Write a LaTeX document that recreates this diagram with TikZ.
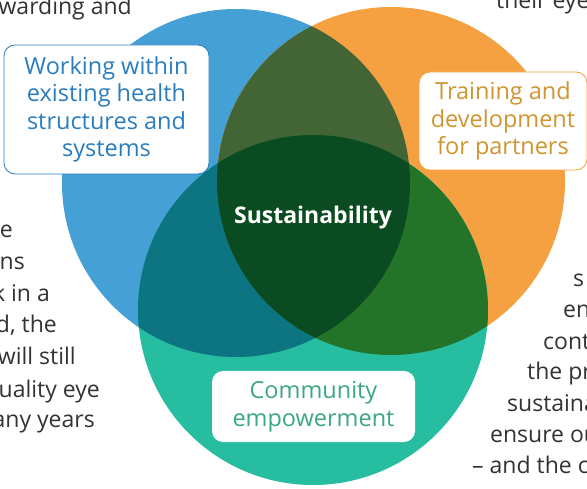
\documentclass[tikz,border=0pt]{standalone}
\usepackage{fontspec}
\setmainfont{Open Sans}
\definecolor{cblue}{HTML}{45A0D5}
\definecolor{corange}{HTML}{F5A041}
\definecolor{cgreen}{HTML}{26BDA1}
\definecolor{cbo}{HTML}{436435}
\definecolor{cbg}{HTML}{0D7482}
\definecolor{cog}{HTML}{237428}
\definecolor{call}{HTML}{0B4B21}
\definecolor{tblue}{HTML}{2A7DBF}
\definecolor{torange}{HTML}{D0952F}
\definecolor{tgreen}{HTML}{3BA784}
\definecolor{tgray}{HTML}{333333}
\begin{document}
\begin{tikzpicture}[x=1pt,y=-1pt,
  bodytext/.style={text=tgray,font=\fontsize{23}{27}\selectfont,inner sep=0pt},
  labelbox/.style={fill=white,rounded corners=11pt,align=center,inner sep=0pt,
     font=\fontsize{23.5}{27.5}\selectfont},
  centrelabel/.style={text=white,font=\bfseries\fontsize{23}{27}\selectfont,inner sep=0pt}]
\clip (0,0) rectangle (587,489);
\fill[white] (0,0) rectangle (587,489);
% circles
\coordinate (cb) at (236,183);
\coordinate (co) at (391,181);
\coordinate (cg) at (313,310);
\fill[cblue] (cb) circle[radius=174];
\fill[corange] (co) circle[radius=174];
\fill[cgreen] (cg) circle[radius=175];
\begin{scope}
  \clip (cb) circle[radius=174];
  \fill[cbo] (co) circle[radius=174];
  \fill[cbg] (cg) circle[radius=175];
\end{scope}
\begin{scope}
  \clip (co) circle[radius=174];
  \fill[cog] (cg) circle[radius=175];
  \clip (cb) circle[radius=174];
  \fill[call] (cg) circle[radius=175];
\end{scope}
% label boxes
\node[labelbox,draw=tblue,line width=0.8pt,text=tblue,minimum width=205pt,minimum height=129pt]
  (bluebox) at (106.5,109.5) {Working within\\existing health\\structures and\\systems};
\node[labelbox,draw=corange,line width=0.8pt,text=torange,minimum width=168pt,minimum height=98pt]
  (orangebox) at (503,121) {Training and\\development\\for partners};
\node[labelbox,text=tgreen,minimum width=203pt,minimum height=71pt]
  (greenbox) at (313.5,406.5) {Community\\empowerment};
\node[centrelabel,anchor=base] (sust) at (313,224) {Sustainability};
% surrounding body text
\node[bodytext,anchor=base east] (tl) at (132,15) {warding and};
\node[bodytext,anchor=base west] (tr) at (496,9) {their eyes};
\node[bodytext,anchor=base east] (l1) at (13,238) {e};
\node[bodytext,anchor=base east] (l2) at (25,270) {ns};
\node[bodytext,anchor=base east] (l3) at (50,302) {k in a};
\node[bodytext,anchor=base east] (l4) at (57,333) {d, the};
\node[bodytext,anchor=base east] (l5) at (76,365) {will still};
\node[bodytext,anchor=base east] (l6) at (100,397) {uality eye};
\node[bodytext,anchor=base east] (l7) at (95,428) {any years};
\node[bodytext,anchor=base west] (r1) at (573,287) {s};
\node[bodytext,anchor=base west] (r2) at (563,318) {en};
\node[bodytext,anchor=base west] (r3) at (543,349) {cont};
\node[bodytext,anchor=base west] (r4) at (527,380) {the pr};
\node[bodytext,anchor=base west] (r5) at (507,411) {sustaina};
\node[bodytext,anchor=base west] (r6) at (490,442) {ensure ou};
\node[bodytext,anchor=base west] (r7) at (472,473) {– and the c};
\end{tikzpicture}
\end{document}
